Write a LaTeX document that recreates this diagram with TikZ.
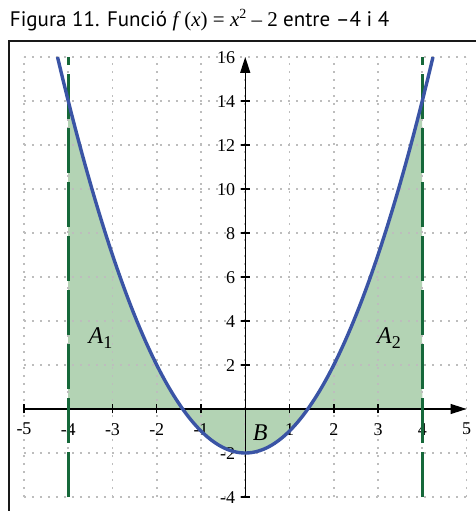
\documentclass[tikz,border=0pt]{standalone}
\usepackage{fontspec}
\setmainfont{Liberation Serif}
\newfontfamily\titlefont{PT Sans}
\usetikzlibrary{arrows.meta}
\definecolor{fillgreen}{HTML}{B3D3B4}
\definecolor{darkgreen}{HTML}{16683A}
\definecolor{curveblue}{HTML}{3A54A5}
\definecolor{gridgray}{HTML}{BDBDBD}
\tikzset{
  frameline/.style={line width=2.7pt, black!90},
  gridline/.style={gridgray, line width=1.6pt, dash pattern=on 1.6pt off 6.4pt},
  axisline/.style={line width=1.5pt, black},
  tickline/.style={line width=1.5pt, black},
  ticklabel/.style={inner sep=0pt, font=\fontsize{18}{20}\selectfont},
  arealabel/.style={inner sep=0pt, font=\fontsize{24}{26}\selectfont\itshape},
  guide/.style={darkgreen, line width=3.4pt, dash pattern=on 45pt off 9pt},
  curve/.style={curveblue, line width=3.4pt},
  areafill/.style={fill=fillgreen}
}
\newcommand{\subn}[1]{\raisebox{-4.5pt}{\fontsize{18}{18}\selectfont\upshape #1}}
\begin{document}
\begin{tikzpicture}[x=44.25pt,y=22pt]
\useasboundingbox (-245.25pt,-102pt) rectangle (229.75pt,409pt);
% title
\node[anchor=base west, inner sep=0pt, font=\fontsize{21}{24}\selectfont] (title) at (-235.5pt,382pt)
  {{\titlefont Figura 11. Funció }\textit{f}\,(\textit{x}) = \textit{x}\raisebox{8pt}{\fontsize{14}{14}\selectfont 2} – 2 {\titlefont entre –4 i 4}};
% frame
\draw[frameline] (-236.25pt,-130pt) rectangle (250pt,368pt);
% filled area
\fill[areafill] (-4,0) -- plot[domain=-4:4, samples=120] (\x,{\x*\x-2}) -- (4,0) -- cycle;
% grid
\draw[gridline] (-5,-4) grid[xstep=1,ystep=2] (5,16);
% axes
\draw[axisline, -{Triangle[length=16pt,width=10pt]}] (-5,0) -- (5,0);
\draw[axisline, -{Triangle[length=16pt,width=10pt]}] (0,-4) -- (0,16);
\foreach \i in {-5,-4,-3,-2,-1,1,2,3,4} {
  \draw[tickline] (\i,0) ++(0,-4.5pt) -- ++(0,9pt);
  \node[ticklabel, anchor=north] (xl\i) at ([yshift=-14pt]\i,0) {\i};
}
\node[ticklabel, anchor=north] (xl5) at ([yshift=-14pt]5,0) {5};
\foreach \j in {-4,-2,2,4,6,8,10,12,14} {
  \draw[tickline] (0,\j) ++(-4.5pt,0) -- ++(9pt,0);
  \node[ticklabel, anchor=east] (yl\j) at ([xshift=-10pt,yshift=-1pt]0,\j) {\j};
}
\node[ticklabel, anchor=east] (yl16) at ([xshift=-10pt,yshift=-1pt]0,16) {16};
% area labels
\node[arealabel] (a1) at (-3.27,3.23) {A\subn{1}};
\node[arealabel] (a2) at (3.25,3.23) {A\subn{2}};
\node[arealabel] (b) at (0.34,-1.07) {B};
% guides
\draw[guide] (-4,-4) -- (-4,16);
\draw[guide] (4,-4) -- (4,16);
% curve
\draw[curve] plot[domain=-4.2426:4.2426, samples=150] (\x,{\x*\x-2});
\end{tikzpicture}
\end{document}
